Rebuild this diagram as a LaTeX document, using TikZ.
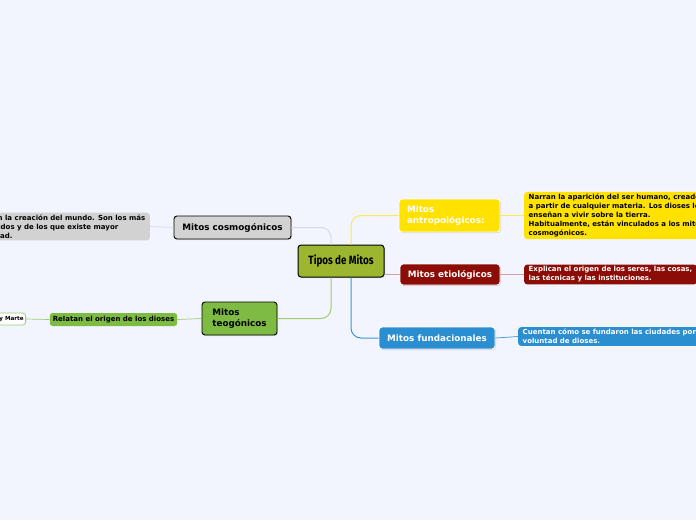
\documentclass[tikz,border=0pt]{standalone}
\usepackage{fontspec}
\setmainfont{DejaVu Sans}
\newfontfamily\titlefont[FakeStretch=0.82]{Fira Sans}
\usetikzlibrary{shadows}
\definecolor{bgblue}{RGB}{242,245,254}
\definecolor{olivegreen}{RGB}{157,182,47}
\definecolor{cosmogray}{RGB}{210,210,210}
\definecolor{teogreen}{RGB}{125,187,66}
\definecolor{antroyellow}{RGB}{255,226,0}
\definecolor{etiored}{RGB}{140,12,7}
\definecolor{fundblue}{RGB}{42,142,208}
\definecolor{linegray}{RGB}{214,218,224}
\definecolor{linegreen}{RGB}{160,205,110}
\definecolor{lineyellow}{RGB}{255,232,80}
\definecolor{linered}{RGB}{215,160,160}
\definecolor{lineblue}{RGB}{60,150,214}

\begin{document}
\begin{tikzpicture}[x=1pt, y=-1pt,
    every node/.style={align=left, rounded corners=3pt, inner sep=3pt},
    shade/.style={drop shadow={opacity=0.25, shadow xshift=1pt, shadow yshift=-1pt}},
    topic/.style={shade, draw=black, line width=0.9pt, font=\fontsize{8.8}{10.5}\selectfont\bfseries},
    branch/.style={shade, draw=white, line width=0.9pt, text=white, font=\fontsize{8.8}{10.5}\selectfont\bfseries},
    desc/.style={font=\fontsize{7}{9}\selectfont\bfseries, inner xsep=4.5pt, inner ysep=2pt},
    link/.style={line width=1pt, rounded corners=10pt}
]
\clip (0,0) rectangle (696,520);
\fill[bgblue] (0,0) rectangle (696,520);

% Centre
\node[shade, draw=black, line width=1pt, fill=olivegreen, minimum width=86pt, minimum height=32pt,
      font=\titlefont\fontsize{12}{14}\selectfont\bfseries] (tipos) at (341,261) {Tipos de Mitos};

% Left side
\node[topic, fill=cosmogray, minimum width=117pt, minimum height=23pt] (cosmo) at (232.5,227.5) {Mitos cosmogónicos};
\node[desc, fill=cosmogray, anchor=east] (cosmodesc) at (150,226.5)
    {Narran la creación del mundo. Son los más\\conocidos y de los que existe mayor\\cantidad.};

\node[topic, fill=teogreen, minimum width=75pt, minimum height=33pt] (teo) at (239.5,318.5) {Mitos\\teogónicos};
\node[desc, fill=teogreen, inner xsep=3pt, minimum width=127pt, minimum height=13pt, align=center] (relatan) at (113.5,319.5)
    {Relatan el origen de los dioses};
\node[desc, fill=white, draw=linegreen, line width=0.8pt, inner xsep=2pt, minimum height=12pt,
      font=\fontsize{5.6}{7}\selectfont\bfseries, text width=40pt, align=right, anchor=east] (marte) at (26,319)
    {y Marte};

% Right side
\node[branch, fill=antroyellow, minimum width=101pt, minimum height=33pt, text width=85pt] (antro) at (449.5,215.5)
    {Mitos\\antropológicos:};
\node[desc, fill=antroyellow, anchor=west] (antrodesc) at (524,215.5)
    {Narran la aparición del ser humano, creados\\a partir de cualquier materia. Los dioses les\\enseñan a vivir sobre la tierra.\\Habitualmente, están vinculados a los mitos\\cosmogónicos.};

\node[branch, fill=etiored, minimum width=100pt, minimum height=21pt] (etio) at (450,274.5) {Mitos etiológicos};
\node[desc, fill=etiored, text=white, anchor=west] (etiodesc) at (524,274.5)
    {Explican el origen de los seres, las cosas,\\las técnicas y las instituciones.};

\node[branch, fill=fundblue, minimum width=116pt, minimum height=22pt] (fund) at (437,338) {Mitos fundacionales};
\node[desc, fill=fundblue, text=white, anchor=west] (funddesc) at (518,336.5)
    {Cuentan cómo se fundaron las ciudades por\\voluntad de dioses.};

% Connectors
\draw[link, linegray] (cosmo.east) -| ([xshift=-10pt]tipos.north);
\draw[link, linegreen] (teo.east) -| ([xshift=-10pt]tipos.south);
\draw[link, lineyellow] (antro.west) -| ([xshift=10pt]tipos.north);
\draw[link, lineblue] (fund.west) -| ([xshift=10pt]tipos.south);
\draw[link, linered] (etio.west) -- (etio.west -| tipos.east);

\draw[line width=0.7pt, linegray] (cosmo.west) -- (cosmodesc.east);
\draw[line width=0.7pt, linegreen] (teo.west) -- (relatan.east);
\draw[line width=0.7pt, linegreen] (relatan.west) -- (marte.east);
\draw[line width=0.7pt, lineyellow] (antro.east) -- (antrodesc.west);
\draw[line width=0.7pt, linered] (etio.east) -- (etiodesc.west);
\draw[line width=0.7pt, lineblue] (fund.east) -- (funddesc.west);
\end{tikzpicture}
\end{document}
